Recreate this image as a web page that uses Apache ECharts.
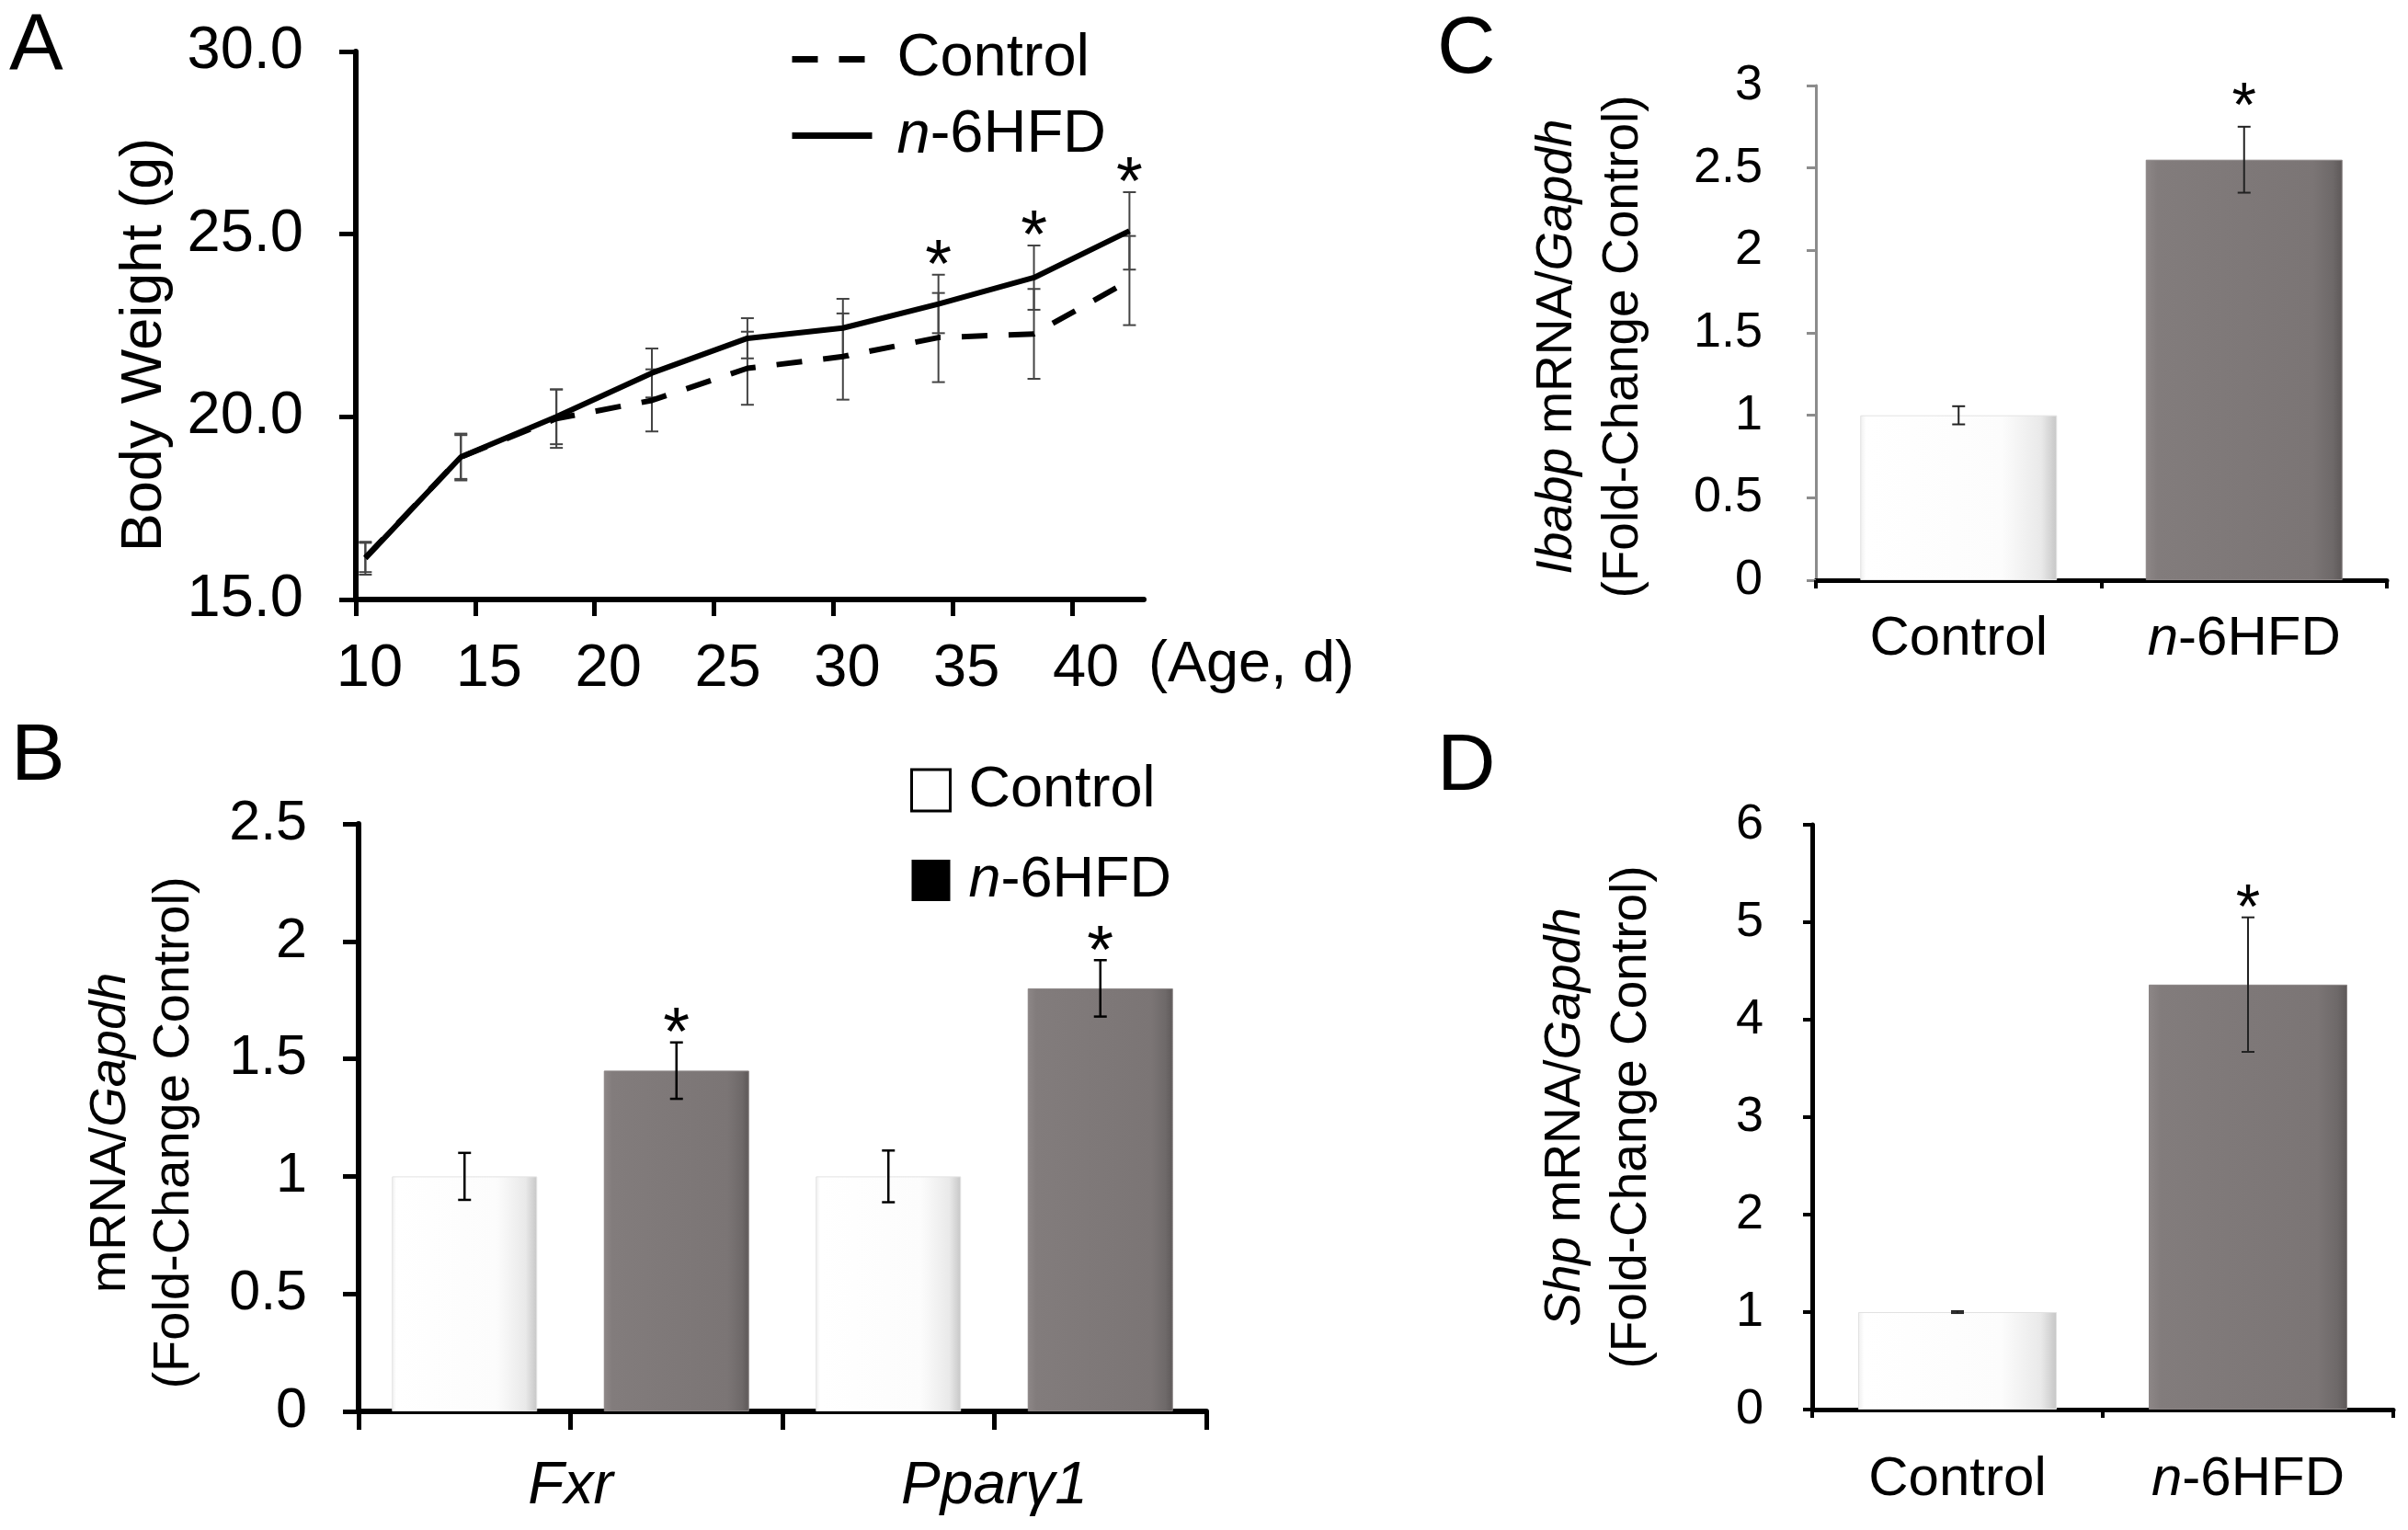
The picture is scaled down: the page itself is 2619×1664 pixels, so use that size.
<!DOCTYPE html>
<html>
<head>
<meta charset="utf-8">
<script src="https://cdn.jsdelivr.net/npm/echarts@6/dist/echarts.min.js"></script>
<style>
  html, body { margin: 0; padding: 0; background: #fff; }
  #chart { width: 2619px; height: 1664px; }
</style>
</head>
<body>
<div id="chart"></div>
<script>
// ---- data ----
// A: body weight
const ageDays = [10.4, 14.4, 18.4, 22.4, 26.4, 30.4, 34.4, 38.4, 42.4];
const controlWeight = [16.15, 18.9, 19.95, 20.45, 21.33, 21.65, 22.17, 22.27, 23.73];
const controlWeightErr = [0.4, 0.6, 0.8, 0.85, 1.0, 1.18, 1.22, 1.23, 1.22];
const hfdWeight = [16.13, 18.9, 20.0, 21.2, 22.15, 22.43, 23.09, 23.81, 25.09];
const hfdWeightErr = [0.45, 0.64, 0.75, 0.67, 0.55, 0.8, 0.8, 0.88, 1.06];
const hfdWeightSig = [0, 0, 0, 0, 0, 0, 1, 1, 1];
const ageTicks = [10, 15, 20, 25, 30, 35, 40];

// B: Fxr / Ppary1
const genesB = ['Fxr', 'Pparγ1'];
const controlB = [1, 1];
const controlBErr = [0.1, 0.11];
const hfdB = [1.45, 1.8];
const hfdBErr = [0.12, 0.12];
const hfdBSig = [1, 1];

// C / D: Ibabp, Shp
const groups = ['Control', 'n-6HFD'];
const ibabp = [1, 2.55];
const ibabpErr = [0.055, 0.2];
const ibabpSig = [0, 1];
const shp = [1, 4.36];
const shpErr = [0.01, 0.69];
const shpSig = [0, 1];

const FONT = "'Liberation Sans', Arial, sans-serif";

let myChart = echarts.init(document.getElementById('chart'));

const controlStyle = {
  color: {
    type: 'linear', x: 0, y: 0, x2: 1, y2: 0,
    colorStops: [
      { offset: 0, color: '#efefef' },
      { offset: 0.03, color: '#ffffff' },
      { offset: 0.72, color: '#fcfcfc' },
      { offset: 0.92, color: '#e9e9e9' },
      { offset: 1, color: '#c6c6c6' }
    ]
  },
  borderColor: '#e2e2e2',
  borderWidth: 1
};
const hfdStyle = {
  color: {
    type: 'linear', x: 0, y: 0, x2: 1, y2: 0,
    colorStops: [
      { offset: 0, color: '#8d8787' },
      { offset: 0.06, color: '#827c7c' },
      { offset: 0.85, color: '#7b7575' },
      { offset: 0.95, color: '#6e6969' },
      { offset: 1, color: '#5d5858' }
    ]
  },
  borderColor: '#8a8484',
  borderWidth: 1
};

// error bars (+ asterisk) through the axis scales
function errorBars(capHalf, color, width, starSize, starGap) {
  return function (params, api) {
    const x = api.value(0), v = api.value(1), e = api.value(2), s = api.value(3);
    const hi = api.coord([x, v + e]);
    const lo = api.coord([x, v - e]);
    const st = { stroke: color, lineWidth: width };
    const children = [
      { type: 'line', shape: { x1: hi[0], y1: hi[1], x2: lo[0], y2: lo[1] }, style: st },
      { type: 'line', shape: { x1: hi[0] - capHalf, y1: hi[1], x2: hi[0] + capHalf, y2: hi[1] }, style: st },
      { type: 'line', shape: { x1: lo[0] - capHalf, y1: lo[1], x2: lo[0] + capHalf, y2: lo[1] }, style: st }
    ];
    if (s) {
      children.push({
        type: 'text', x: hi[0], y: hi[1] - starGap,
        style: { text: '*', fontSize: starSize, fontFamily: FONT, fill: '#000', align: 'center', verticalAlign: 'middle' }
      });
    }
    return { type: 'group', children: children };
  };
}

const groupLabel = (v) => (v === 'n-6HFD' ? '{i|n}-6HFD' : v);

function valueY(gridIndex, min, max, interval, o) {
  return {
    gridIndex: gridIndex, type: 'value', min: min, max: max, interval: interval,
    axisLine: { show: true, lineStyle: { color: o.color, width: o.width } },
    axisTick: { show: true, inside: false, length: o.tick, lineStyle: { color: o.color, width: o.tickWidth } },
    axisLabel: { fontSize: o.font, color: '#000', margin: o.margin, fontFamily: FONT, formatter: o.formatter },
    splitLine: { show: false }
  };
}

function groupAxis(gridIndex, margin) {
  return {
    gridIndex: gridIndex, type: 'category', data: groups,
    axisLine: { show: true, lineStyle: { color: '#000', width: 5 } },
    axisTick: { show: true, length: 9, lineStyle: { color: '#000', width: 4 } },
    axisLabel: {
      interval: 0, fontSize: 60, color: '#000', margin: margin, formatter: groupLabel,
      rich: { i: { fontSize: 60, fontStyle: 'italic', fontFamily: FONT } }
    }
  };
}

let option = {
  backgroundColor: '#fff',
  animation: false,
  textStyle: { fontFamily: FONT },
  grid: [
    { left: 387, top: 56, width: 857, height: 596 },
    { left: 390, top: 896, width: 922, height: 639 },
    { left: 1975, top: 93, width: 621, height: 538 },
    { left: 1971, top: 897, width: 632, height: 636 }
  ],
  legend: [
    {
      data: ['Control', 'n-6HFD'],
      orient: 'vertical', left: 853, top: 27,
      itemWidth: 87, itemHeight: 20, itemGap: 18,
      selectedMode: false,
      itemStyle: { color: 'transparent', borderColor: 'transparent', borderWidth: 0, opacity: 0 },
      lineStyle: { width: 7, color: '#000' },
      formatter: groupLabel,
      textStyle: {
        fontSize: 65, color: '#000', fontFamily: FONT, padding: [0, 0, 0, 22],
        rich: { i: { fontSize: 65, fontStyle: 'italic', fontFamily: FONT } }
      }
    },
    {
      data: [
        { name: 'B Control', icon: 'rect', itemStyle: { color: '#fff', borderColor: '#000', borderWidth: 3 } },
        { name: 'B n-6HFD', icon: 'rect', itemStyle: { color: '#000', borderWidth: 0 } }
      ],
      orient: 'vertical', left: 985, top: 823,
      itemWidth: 42, itemHeight: 45, itemGap: 35,
      selectedMode: false,
      formatter: (n) => groupLabel(n.replace('B ', '')),
      textStyle: {
        fontSize: 63, color: '#000', fontFamily: FONT, padding: [0, 0, 0, 15],
        rich: { i: { fontSize: 63, fontStyle: 'italic', fontFamily: FONT } }
      }
    }
  ],
  xAxis: [
    {
      gridIndex: 0, type: 'value', min: 10, max: 43, interval: 5,
      axisLine: { show: true, onZero: false, lineStyle: { color: '#000', width: 6 } },
      axisTick: { show: true, length: 18, customValues: ageTicks, lineStyle: { color: '#000', width: 5 } },
      axisLabel: { customValues: ageTicks, fontSize: 65, color: '#000', margin: 44, padding: [0, 0, 0, 30] },
      splitLine: { show: false }
    },
    {
      gridIndex: 1, type: 'category', position: 'bottom',
      data: genesB.flatMap((g) => [g + ' Control', g + ' n-6HFD']),
      axisLine: { show: true, lineStyle: { color: '#000', width: 6 } },
      axisTick: { show: true, length: 20, lineStyle: { color: '#000', width: 5 } },
      axisLabel: { show: false }
    },
    {
      gridIndex: 1, type: 'category', position: 'bottom', data: genesB,
      axisLine: { show: false }, axisTick: { show: false },
      axisLabel: { interval: 0, fontSize: 64, fontStyle: 'italic', color: '#000', margin: 50 }
    },
    groupAxis(2, 34),
    groupAxis(3, 46)
  ],
  yAxis: [
    valueY(0, 15, 30, 5, { color: '#000', width: 6, tick: 18, tickWidth: 5, font: 65, margin: 57, formatter: (v) => v.toFixed(1) }),
    valueY(1, 0, 2.5, 0.5, { color: '#000', width: 6, tick: 17, tickWidth: 5, font: 61, margin: 56 }),
    valueY(2, 0, 3, 0.5, { color: '#8c8c8c', width: 3, tick: 10, tickWidth: 3, font: 54, margin: 58 }),
    valueY(3, 0, 6, 1, { color: '#000', width: 5, tick: 10, tickWidth: 4, font: 54, margin: 53 })
  ],
  graphic: [
    { type: 'text', x: 10, y: 8, style: { text: 'A', fontSize: 88, fontFamily: FONT, fill: '#000', verticalAlign: 'top' } },
    { type: 'text', x: 12, y: 780, style: { text: 'B', fontSize: 88, fontFamily: FONT, fill: '#000', verticalAlign: 'top' } },
    { type: 'text', x: 1563, y: 11, style: { text: 'C', fontSize: 88, fontFamily: FONT, fill: '#000', verticalAlign: 'top' } },
    { type: 'text', x: 1563, y: 791, style: { text: 'D', fontSize: 88, fontFamily: FONT, fill: '#000', verticalAlign: 'top' } },
    {
      type: 'text', x: 158, y: 375, rotation: Math.PI / 2,
      style: { text: 'Body Weight (g)', fontSize: 63, fontFamily: FONT, fill: '#000', align: 'center', verticalAlign: 'middle' }
    },
    {
      type: 'text', x: 1249, y: 724,
      style: { text: '(Age, d)', fontSize: 63, fontFamily: FONT, fill: '#000', align: 'left', verticalAlign: 'middle' }
    },
    {
      type: 'text', x: 155, y: 1232, rotation: Math.PI / 2,
      style: {
        text: 'mRNA/{i|Gapdh}\n(Fold-Change Control)', fontSize: 56, lineHeight: 69, fontFamily: FONT, fill: '#000',
        align: 'center', verticalAlign: 'middle',
        rich: { i: { fontSize: 56, lineHeight: 69, fontStyle: 'italic', fontFamily: FONT } }
      }
    },
    {
      type: 'text', x: 1730, y: 377, rotation: Math.PI / 2,
      style: {
        text: '{i|Ibabp} mRNA/{i|Gapdh}\n(Fold-Change Control)', fontSize: 55, lineHeight: 72, fontFamily: FONT, fill: '#000',
        align: 'center', verticalAlign: 'middle',
        rich: { i: { fontSize: 55, lineHeight: 72, fontStyle: 'italic', fontFamily: FONT } }
      }
    },
    {
      type: 'text', x: 1739, y: 1215, rotation: Math.PI / 2,
      style: {
        text: '{i|Shp} mRNA/{i|Gapdh}\n(Fold-Change Control)', fontSize: 55, lineHeight: 72, fontFamily: FONT, fill: '#000',
        align: 'center', verticalAlign: 'middle',
        rich: { i: { fontSize: 55, lineHeight: 72, fontStyle: 'italic', fontFamily: FONT } }
      }
    }
  ],
  series: [
    // A
    {
      name: 'Control', type: 'line', xAxisIndex: 0, yAxisIndex: 0, symbol: 'none',
      data: ageDays.map((d, i) => [d, controlWeight[i]]),
      itemStyle: { color: '#000' },
      lineStyle: { color: '#000', width: 6, type: [28, 23] }
    },
    {
      name: 'n-6HFD', type: 'line', xAxisIndex: 0, yAxisIndex: 0, symbol: 'none',
      data: ageDays.map((d, i) => [d, hfdWeight[i]]),
      itemStyle: { color: '#000' },
      lineStyle: { color: '#000', width: 6 }
    },
    {
      name: 'A control err', type: 'custom', xAxisIndex: 0, yAxisIndex: 0, z: 3,
      encode: { x: 0, y: 1 },
      renderItem: errorBars(7, '#444', 2, 74, 7),
      data: ageDays.map((d, i) => [d, controlWeight[i], controlWeightErr[i], 0])
    },
    {
      name: 'A hfd err', type: 'custom', xAxisIndex: 0, yAxisIndex: 0, z: 3,
      encode: { x: 0, y: 1 },
      renderItem: errorBars(7, '#444', 2, 74, 7),
      data: ageDays.map((d, i) => [d, hfdWeight[i], hfdWeightErr[i], hfdWeightSig[i]])
    },
    // B
    {
      name: 'B Control', type: 'bar', xAxisIndex: 1, yAxisIndex: 1,
      barWidth: 158, barGap: '-100%', itemStyle: controlStyle,
      data: genesB.flatMap((g, i) => [controlB[i], '-'])
    },
    {
      name: 'B n-6HFD', type: 'bar', xAxisIndex: 1, yAxisIndex: 1,
      barWidth: 158, barGap: '-100%', itemStyle: hfdStyle,
      data: genesB.flatMap((g, i) => ['-', hfdB[i]])
    },
    {
      name: 'B err', type: 'custom', xAxisIndex: 1, yAxisIndex: 1, z: 3,
      encode: { x: 0, y: 1 },
      renderItem: errorBars(7, '#000', 2.5, 74, 7),
      data: genesB.flatMap((g, i) => [
        [2 * i, controlB[i], controlBErr[i], 0],
        [2 * i + 1, hfdB[i], hfdBErr[i], hfdBSig[i]]
      ])
    },
    // C
    {
      name: 'C bars', type: 'bar', xAxisIndex: 3, yAxisIndex: 2, barWidth: 214,
      data: ibabp.map((v, i) => ({ value: v, itemStyle: i === 0 ? controlStyle : hfdStyle }))
    },
    {
      name: 'C err', type: 'custom', xAxisIndex: 3, yAxisIndex: 2, z: 3,
      encode: { x: 0, y: 1 },
      renderItem: errorBars(7, '#222', 2, 68, 20),
      data: ibabp.map((v, i) => [i, v, ibabpErr[i], ibabpSig[i]])
    },
    // D
    {
      name: 'D bars', type: 'bar', xAxisIndex: 4, yAxisIndex: 3, barWidth: 216,
      data: shp.map((v, i) => ({ value: v, itemStyle: i === 0 ? controlStyle : hfdStyle }))
    },
    {
      name: 'D err', type: 'custom', xAxisIndex: 4, yAxisIndex: 3, z: 3,
      encode: { x: 0, y: 1 },
      renderItem: errorBars(7, '#222', 2, 68, 7),
      data: shp.map((v, i) => [i, v, shpErr[i], shpSig[i]])
    }
  ]
};

option && myChart.setOption(option);
</script>
</body>
</html>
